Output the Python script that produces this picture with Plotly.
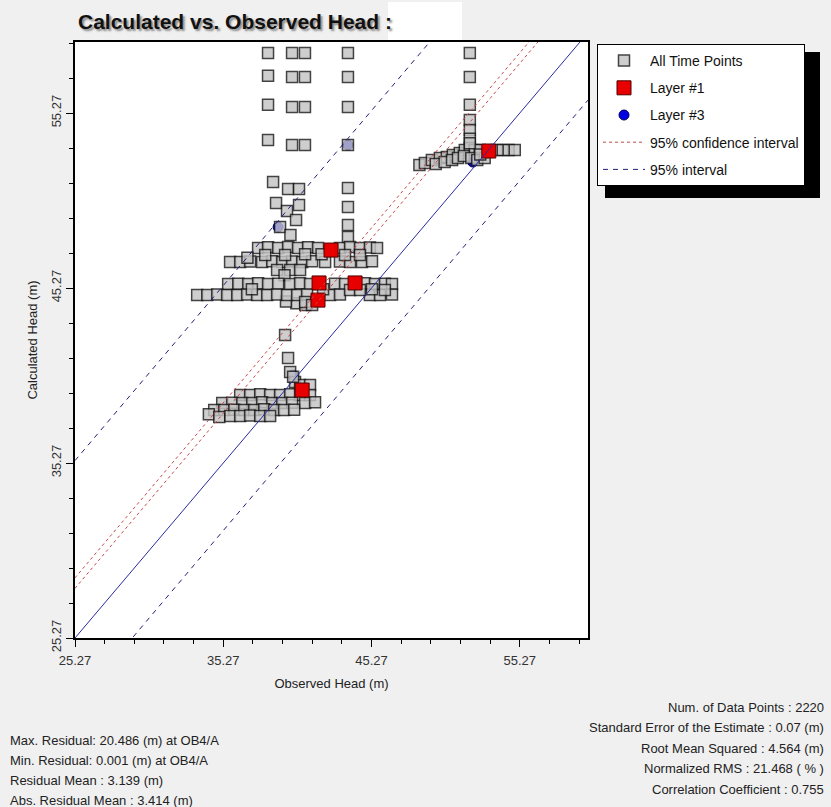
import plotly.graph_objects as go

# ---------------- data: (observed head, calculated head) in metres ----------------
top_columns = [
    (38.29, 58.70), (38.29, 57.40), (38.29, 55.75), (38.29, 53.73),
    (38.63, 51.33), (38.83, 50.13), (39.10, 48.76),
    (39.91, 58.70), (39.91, 57.33), (39.91, 55.61), (39.91, 53.44),
    (40.78, 58.70), (40.78, 57.33), (40.78, 55.61), (40.78, 53.44),
    (39.64, 50.93), (40.38, 50.93), (39.57, 49.67), (40.38, 50.01),
    (40.18, 49.16), (39.80, 48.30),
    (43.68, 58.70), (43.68, 57.33), (43.68, 55.61), (43.68, 53.44),
    (43.68, 50.99), (43.68, 49.90), (43.68, 48.87), (43.68, 48.18),
    (51.90, 58.70), (51.90, 57.33), (51.90, 55.75), (51.90, 54.87),
    (51.90, 54.30), (51.90, 53.80),
]
right_cluster = [
    (48.50, 52.30), (48.87, 52.41), (49.34, 52.58), (49.88, 52.70),
    (50.35, 52.76), (50.75, 52.87), (51.22, 52.99), (51.56, 53.16),
    (51.90, 53.27), (52.23, 53.16), (52.57, 53.16), (53.72, 53.16),
    (54.12, 53.16), (54.52, 53.16), (54.93, 53.16), (49.60, 52.36),
    (50.20, 52.47), (50.70, 52.58), (51.10, 52.70), (51.50, 52.81),
    (52.00, 52.70), (52.40, 52.58), (52.90, 52.70), (51.90, 53.55),
    (52.60, 52.90),
]
upper_band = [
    (37.62, 47.56), (38.29, 47.60), (38.97, 47.56), (39.64, 47.62),
    (40.31, 47.56), (40.99, 47.60), (41.66, 47.56), (43.14, 47.56),
    (43.82, 47.62), (44.49, 47.56), (45.16, 47.58), (45.64, 47.56),
    (35.73, 46.76), (36.41, 46.76), (37.08, 46.78), (37.89, 46.76),
    (38.57, 46.80), (39.24, 46.76), (39.91, 46.78), (40.59, 46.76),
    (41.26, 46.80), (42.14, 46.76), (43.14, 46.78), (43.82, 46.76),
    (44.63, 46.76), (45.30, 46.80),
    (38.10, 47.16), (39.44, 47.16), (40.79, 47.20), (43.48, 47.16),
    (44.49, 47.16), (41.90, 47.20), (36.90, 47.00),
]
connectors = [
    (38.90, 46.30), (39.78, 46.30), (40.45, 46.30), (39.40, 46.00),
    (40.20, 44.40), (40.80, 44.30), (39.50, 44.50),
    (39.44, 42.58), (39.64, 41.27), (39.78, 40.47), (40.11, 39.90),
]
lower_band = [
    (35.60, 45.50), (36.28, 45.52), (36.95, 45.50), (37.62, 45.54),
    (38.29, 45.50), (38.97, 45.52), (39.78, 45.50), (40.45, 45.54),
    (41.12, 45.50), (42.81, 45.52), (43.48, 45.50), (44.83, 45.54),
    (45.50, 45.50), (46.17, 45.52), (46.65, 45.50),
    (33.51, 44.87), (34.19, 44.87), (34.86, 44.90), (35.53, 44.87),
    (36.21, 44.87), (36.88, 44.90), (37.55, 44.87), (38.23, 44.87),
    (38.90, 44.90), (39.57, 44.87), (40.25, 44.87), (40.92, 44.90),
    (42.47, 44.87), (43.14, 44.90), (45.16, 44.87), (45.84, 44.87),
    (46.65, 44.90),
    (43.82, 45.16), (44.49, 45.16), (45.30, 45.20), (46.17, 45.16),
    (40.79, 44.47), (41.26, 44.30), (42.00, 45.20), (37.20, 45.20),
]
lower_cluster = [
    (40.45, 39.73), (41.12, 39.73), (39.98, 40.20),
    (36.41, 39.16), (37.08, 39.16), (37.76, 39.20), (38.43, 39.16),
    (39.10, 39.16), (39.78, 39.20), (40.45, 39.16), (41.12, 39.16),
    (35.20, 38.70), (35.87, 38.72), (36.55, 38.70), (37.22, 38.70),
    (37.89, 38.74), (38.57, 38.70), (39.24, 38.70), (39.91, 38.72),
    (40.79, 38.70), (41.46, 38.74),
    (34.66, 38.30), (35.33, 38.30), (36.01, 38.32), (36.68, 38.30),
    (37.35, 38.30), (38.03, 38.34), (38.70, 38.30), (39.37, 38.30),
    (40.05, 38.32),
    (35.73, 37.96), (36.41, 37.96), (37.08, 37.98), (37.76, 37.96),
    (38.43, 37.96), (34.30, 38.05), (35.00, 37.90),
]
layer1_points = [
    (42.54, 47.44), (41.73, 45.56), (41.66, 44.58), (44.16, 45.56),
    (40.59, 39.44), (53.18, 53.10),
]
layer3_points = [
    (43.68, 53.44), (38.97, 48.76), (52.10, 52.47), (39.98, 40.30),
]

# statistics shown under the chart
left_stats = [
    "Max. Residual: 20.486 (m) at OB4/A",
    "Min. Residual: 0.001 (m) at OB4/A",
    "Residual Mean : 3.139 (m)",
    "Abs. Residual Mean : 3.414 (m)",
]
right_stats = [
    "Num. of Data Points : 2220",
    "Standard Error of the Estimate : 0.07 (m)",
    "Root Mean Squared : 4.564 (m)",
    "Normalized RMS : 21.468 ( % )",
    "Correlation Coefficient : 0.755",
]
residual_mean = 3.139
confidence_half = 0.30
interval_half = 7.00
x_range = [25.27, 59.87]
y_range = [25.27, 59.33]
tick_start = 25.27

all_points = top_columns + right_cluster + upper_band + connectors + lower_band + lower_cluster

FONT = "Liberation Sans Narrow, Arial Narrow, Liberation Sans, Arial, sans-serif"

# plot area in pixels (for layout placement only)
L, R, T, B = 75, 588, 42, 638
W, H = 831, 807


def px(x):
    return (x - L) / (R - L)


def py(y):
    return (B - y) / (B - T)


fig = go.Figure()

# blue layer #3 markers (under the translucent grey squares)
fig.add_trace(go.Scatter(
    x=[p[0] for p in layer3_points], y=[p[1] for p in layer3_points],
    mode="markers", name="Layer #3", legendrank=3, legendgroup="g3",
    marker=dict(symbol="circle", size=10, color="#0000e0",
                line=dict(color="#000060", width=1)),
))
fig.add_trace(go.Scatter(
    x=[p[0] for p in all_points], y=[p[1] for p in all_points],
    mode="markers", name="All Time Points", legendrank=1, legendgroup="g1",
    marker=dict(symbol="square", size=11, color="#c4c4c4", opacity=0.82,
                line=dict(color="#1a1a1a", width=1.5)),
))
fig.add_trace(go.Scatter(
    x=[p[0] for p in layer1_points], y=[p[1] for p in layer1_points],
    mode="markers", name="Layer #1", legendrank=2, legendgroup="g2",
    marker=dict(symbol="square", size=14, color="#e80000",
                line=dict(color="#500000", width=1)),
))

# reference and interval lines
xl = x_range
fig.add_trace(go.Scatter(
    x=xl, y=[v for v in xl], mode="lines", showlegend=False,
    line=dict(color="#2a2aa0", width=1),
))
for k, off in enumerate([residual_mean - confidence_half, residual_mean + confidence_half]):
    fig.add_trace(go.Scatter(
        x=xl, y=[v + off for v in xl], mode="lines",
        name="95% confidence interval", showlegend=(k == 0),
        legendrank=4, legendgroup="g4",
        line=dict(color="#c84848", width=1, dash="3px,3px"),
    ))
for k, off in enumerate([residual_mean + interval_half, residual_mean - interval_half]):
    fig.add_trace(go.Scatter(
        x=xl, y=[v + off for v in xl], mode="lines",
        name="95% interval", showlegend=(k == 0),
        legendrank=5, legendgroup="g5",
        line=dict(color="#20207a", width=1, dash="5px,5px"),
    ))

axis_common = dict(
    showgrid=False, zeroline=False, showline=True, linecolor="black",
    linewidth=1.5, mirror=True, ticks="outside", ticklen=7, tickwidth=1,
    tickcolor="black", tick0=tick_start, dtick=10, tickformat=".2f",
    tickfont=dict(family=FONT, size=13, color="#333333"),
    minor=dict(ticks="outside", ticklen=4, tickwidth=1, tickcolor="black",
               tick0=tick_start, dtick=2, showgrid=False),
)

fig.update_layout(
    width=W, height=H,
    margin=dict(l=L, r=W - R, t=T, b=H - B, pad=0),
    paper_bgcolor="#f0f0f0", plot_bgcolor="white",
    font=dict(family=FONT, size=13, color="#222222"),
    xaxis=dict(range=x_range, ticklabelstandoff=3,
               title=dict(text="Observed Head (m)", standoff=12,
                          font=dict(family=FONT, size=13, color="#222222")),
               **axis_common),
    yaxis=dict(range=y_range, tickangle=-90,
               title=dict(text="Calculated Head (m)", standoff=8,
                          font=dict(family=FONT, size=13, color="#222222")),
               **axis_common),
    legend=dict(x=px(597), y=py(44), xanchor="left", yanchor="top",
                bgcolor="white", bordercolor="black", borderwidth=1,
                font=dict(family=FONT, size=14, color="#111111"),
                tracegroupgap=6, traceorder="grouped", itemwidth=42),
    showlegend=True,
)

# legend shadow
fig.add_shape(type="rect", xref="paper", yref="paper",
              x0=px(605), x1=px(820), y0=py(198), y1=py(52),
              fillcolor="black", line=dict(width=0), layer="below")

# blank patch after the title
fig.add_shape(type="rect", xref="paper", yref="paper",
              x0=px(388), x1=px(462), y0=py(40), y1=py(2),
              fillcolor="white", line=dict(width=0))
fig.add_annotation(text="Calculated vs. Observed Head :", xref="paper", yref="paper",
                   x=px(76), y=py(22), xanchor="left", yanchor="middle", showarrow=False,
                   font=dict(family=FONT, size=21, color="#111111", weight=700,
                             shadow="2px 2px 2px #8a8a8a"))

for i, s in enumerate(left_stats):
    fig.add_annotation(text=s, xref="paper", yref="paper", x=px(8), y=py(740 + 20 * i),
                       xanchor="left", yanchor="middle", showarrow=False,
                       font=dict(family=FONT, size=13, color="#222222"))
for i, s in enumerate(right_stats):
    fig.add_annotation(text=s, xref="paper", yref="paper", x=px(826), y=py(707 + 20.5 * i),
                       xanchor="right", yanchor="middle", showarrow=False,
                       font=dict(family=FONT, size=13, color="#222222"))

fig.write_html("out.html", config={"displayModeBar": False},
               post_script="document.body.style.margin='0';document.body.style.padding='0';")
